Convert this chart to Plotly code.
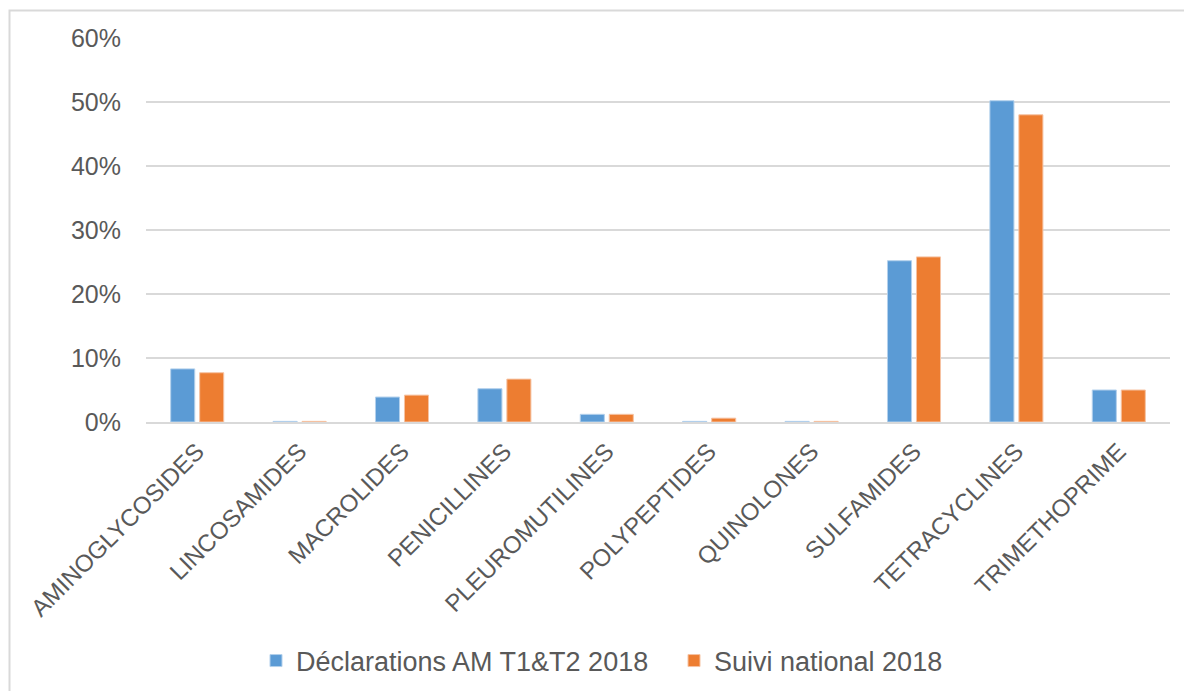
import plotly.graph_objects as go

categories = ["AMINOGLYCOSIDES", "LINCOSAMIDES", "MACROLIDES", "PENICILLINES",
              "PLEUROMUTILINES", "POLYPEPTIDES", "QUINOLONES", "SULFAMIDES",
              "TETRACYCLINES", "TRIMETHOPRIME"]
declarations = [8.3, 0.1, 3.9, 5.2, 1.2, 0.1, 0.1, 25.2, 50.2, 5.0]
suivi_national = [7.7, 0.1, 4.2, 6.7, 1.2, 0.6, 0.1, 25.8, 48.0, 5.0]

W, H = 1184, 691
L, R, T, B = 146, 14, 38, 269
pw, ph = W - L - R, H - T - B

def px_x(x):
    return (x - L) / pw

def px_y(y):
    return (H - B - y) / ph

font_col = "#595959"

fig = go.Figure()
fig.add_trace(go.Bar(
    x=categories, y=declarations, name="Déclarations AM T1&T2 2018",
    marker=dict(color="#5B9BD5", line=dict(color="#B3D0EC", width=1)),
))
fig.add_trace(go.Bar(
    x=categories, y=suivi_national, name="Suivi national 2018",
    marker=dict(color="#ED7D31", line=dict(color="#F6C3A3", width=1)),
))

fig.update_layout(
    template="none",
    width=W, height=H,
    margin=dict(l=L, r=R, t=T, b=B, autoexpand=False),
    paper_bgcolor="white", plot_bgcolor="white",
    barmode="group", bargap=0.434, bargroupgap=0.17,
    font=dict(family="Liberation Sans, Arial, sans-serif", color=font_col),
    legend=dict(
        orientation="h", x=px_x(256), xanchor="left", y=px_y(661), yanchor="middle",
        font=dict(size=27, color=font_col), itemwidth=30, traceorder="normal",
        entrywidth=373,
    ),
    shapes=[dict(
        type="rect", xref="paper", yref="paper",
        x0=px_x(9.5), x1=px_x(1195), y0=px_y(705), y1=px_y(10.5),
        line=dict(color="#D9D9D9", width=2), fillcolor="rgba(0,0,0,0)", layer="below",
    )],
)
fig.update_xaxes(
    tickangle=-45, tickfont=dict(size=24, color=font_col),
    showgrid=False, showline=True, linecolor="#D9D9D9", linewidth=2,
    ticks="", automargin=False, ticklabelstandoff=4,
)
fig.update_yaxes(
    range=[0, 60], dtick=10, ticksuffix="%",
    tickfont=dict(size=25, color=font_col),
    showgrid=True, gridcolor="#D9D9D9", gridwidth=2,
    zeroline=False, showline=False, ticks="", automargin=False,
    ticklabelstandoff=24,
)

fig.write_html("out.html")
